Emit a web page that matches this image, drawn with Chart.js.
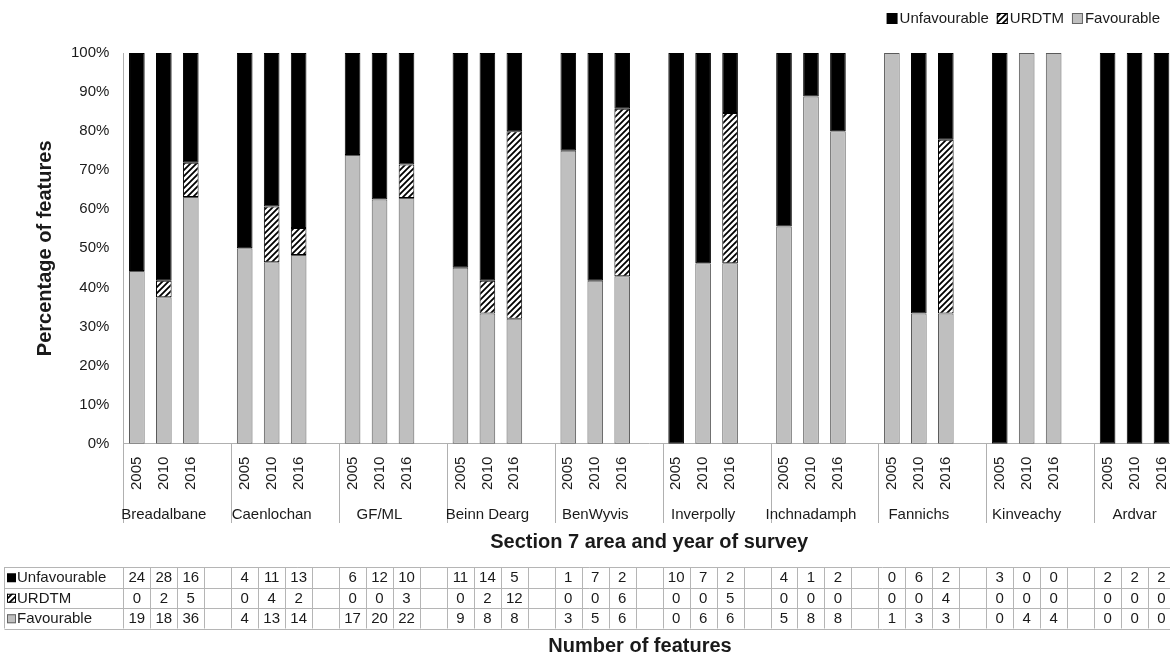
<!DOCTYPE html>
<html>
<head>
<meta charset="utf-8">
<script src="https://cdn.jsdelivr.net/npm/chart.js@4.4.1/dist/chart.umd.min.js"></script>
<style>
  html, body { margin: 0; padding: 0; overflow: hidden; background: #fff; }
</style>
</head>
<body>
<canvas id="myChart" width="1175" height="660" style="width:1175px;height:660px"></canvas>
<script>
var areas = ['Breadalbane', 'Caenlochan', 'GF/ML', 'Beinn Dearg', 'BenWyvis', 'Inverpolly', 'Inchnadamph', 'Fannichs', 'Kinveachy', 'Ardvar'];
var years = ['2005', '2010', '2016'];
// number of features per area and year (3 values per area)
var unfavourable = [24, 28, 16, 4, 11, 13, 6, 12, 10, 11, 14, 5, 1, 7, 2, 10, 7, 2, 4, 1, 2, 0, 6, 2, 3, 0, 0, 2, 2, 2];
var urdtm = [0, 2, 5, 0, 4, 2, 0, 0, 3, 0, 2, 12, 0, 0, 6, 0, 0, 5, 0, 0, 0, 0, 0, 4, 0, 0, 0, 0, 0, 0];
var favourable = [19, 18, 36, 4, 13, 14, 17, 20, 22, 9, 8, 8, 3, 5, 6, 0, 6, 6, 5, 8, 8, 1, 3, 3, 0, 4, 4, 0, 0, 0];
var tablaFilas = ['Unfavourable', 'URDTM', 'Favourable'];

var fuente = '"Liberation Sans", Arial, sans-serif';
var colorTexto = '#1a1a1a';
var colorGris = '#bfbfbf';

function crearRayado() {
  var c = document.createElement('canvas');
  c.width = 6; c.height = 6;
  var g = c.getContext('2d');
  g.fillStyle = '#fff';
  g.fillRect(0, 0, 6, 6);
  g.strokeStyle = '#000';
  g.lineWidth = 1.8;
  g.beginPath();
  g.moveTo(-1, 7); g.lineTo(7, -1);
  g.moveTo(-4, 4); g.lineTo(4, -4);
  g.moveTo(2, 10); g.lineTo(10, 2);
  g.stroke();
  return g.createPattern(c, 'repeat');
}
var rayado = crearRayado();

// 4 slots per area (3 years + blank), no blank after the last area
var etiquetas = [];
var pctUnfav = [], pctUrdtm = [], pctFav = [];
for (var a = 0; a < areas.length; a++) {
  for (var j = 0; j < years.length; j++) {
    var k = a * 3 + j;
    var total = unfavourable[k] + urdtm[k] + favourable[k];
    etiquetas.push(years[j]);
    pctUnfav.push(100 * unfavourable[k] / total);
    pctUrdtm.push(100 * urdtm[k] / total);
    pctFav.push(100 * favourable[k] / total);
  }
  if (a < areas.length - 1) {
    etiquetas.push('');
    pctUnfav.push(null); pctUrdtm.push(null); pctFav.push(null);
  }
}

function cajaLeyenda(ctx, tipo, x, y, s) {
  if (tipo === 0) { ctx.fillStyle = '#000'; ctx.fillRect(x, y, s, s); }
  else if (tipo === 1) {
    ctx.fillStyle = rayado; ctx.fillRect(x, y, s, s);
    ctx.strokeStyle = '#000'; ctx.lineWidth = 1; ctx.strokeRect(x + 0.5, y + 0.5, s - 1, s - 1);
  } else {
    ctx.fillStyle = colorGris; ctx.fillRect(x, y, s, s);
    ctx.strokeStyle = '#666'; ctx.lineWidth = 1; ctx.strokeRect(x + 0.5, y + 0.5, s - 1, s - 1);
  }
}

var pluginExtra = {
  id: 'extra',
  afterDraw: function (chart) {
    var ctx = chart.ctx;
    var x = chart.scales.x;
    var area = chart.chartArea;
    var w = x.getPixelForValue(1) - x.getPixelForValue(0);
    ctx.save();
    ctx.textBaseline = 'middle';

    // legend, right aligned
    ctx.font = '15px ' + fuente;
    var lx = 1160;
    for (var i = 2; i >= 0; i--) {
      var tw = ctx.measureText(tablaFilas[i]).width;
      lx -= tw;
      ctx.fillStyle = colorTexto;
      ctx.textAlign = 'left';
      ctx.fillText(tablaFilas[i], lx, 19);
      lx -= 13;
      cajaLeyenda(ctx, i, lx, 13, 11);
      lx -= 8;
    }

    // separators and area names
    ctx.strokeStyle = '#b0b0b0';
    ctx.lineWidth = 1;
    for (var a = 0; a < areas.length; a++) {
      var sx = Math.round(x.getPixelForValue(a * 4) - w / 2) + 0.5;
      ctx.beginPath();
      ctx.moveTo(sx, area.bottom);
      ctx.lineTo(sx, 523);
      ctx.stroke();
    }
    ctx.fillStyle = colorTexto;
    ctx.font = '15px ' + fuente;
    ctx.textAlign = 'center';
    for (var a = 0; a < areas.length; a++) {
      ctx.fillText(areas[a], x.getPixelForValue(a * 4 + 1), 515);
    }

    // table
    var top = 567, fila = 20.5;
    var izq = 4.5;
    var finTabla = x.getPixelForValue(etiquetas.length - 1) + w / 2;
    ctx.strokeStyle = '#b5b5b5';
    ctx.beginPath();
    for (var r = 0; r <= 3; r++) {
      var yy = Math.round(top + r * fila) + 0.5;
      ctx.moveTo(izq, yy); ctx.lineTo(finTabla, yy);
    }
    ctx.moveTo(izq, top); ctx.lineTo(izq, top + 3 * fila);
    for (var s = 0; s <= etiquetas.length; s++) {
      var cx = Math.round(x.getPixelForValue(s) - w / 2) + 0.5;
      ctx.moveTo(cx, top); ctx.lineTo(cx, top + 3 * fila);
    }
    ctx.stroke();

    var series = [unfavourable, urdtm, favourable];
    ctx.font = '15px ' + fuente;
    for (var r = 0; r < 3; r++) {
      var cy = top + r * fila + fila / 2 + 1;
      cajaLeyenda(ctx, r, 7, cy - 5, 9);
      ctx.fillStyle = colorTexto;
      ctx.textAlign = 'left';
      ctx.fillText(tablaFilas[r], 17, cy);
      ctx.textAlign = 'center';
      for (var a = 0; a < areas.length; a++) {
        for (var j = 0; j < 3; j++) {
          ctx.fillText(String(series[r][a * 3 + j]), x.getPixelForValue(a * 4 + j), cy);
        }
      }
    }

    ctx.font = 'bold 20px ' + fuente;
    ctx.textAlign = 'center';
    ctx.fillText('Number of features', 640, 646);
    ctx.restore();
  }
};

var ctx = document.getElementById('myChart').getContext('2d');
var myChart = new Chart(ctx, {
  type: 'bar',
  data: {
    labels: etiquetas,
    datasets: [
      { label: 'Favourable', data: pctFav, backgroundColor: colorGris, borderColor: '#5a5a5a', borderWidth: 1, borderSkipped: false },
      { label: 'URDTM', data: pctUrdtm, backgroundColor: rayado, borderColor: '#000', borderWidth: 1, borderSkipped: false },
      { label: 'Unfavourable', data: pctUnfav, backgroundColor: '#000', borderColor: '#000', borderWidth: 1, borderSkipped: false }
    ]
  },
  options: {
    responsive: false,
    animation: false,
    datasets: { bar: { barPercentage: 0.58, categoryPercentage: 1 } },
    layout: { padding: { left: 0, right: 0, top: 53, bottom: 104 } },
    plugins: {
      legend: { display: false },
      tooltip: { enabled: false }
    },
    scales: {
      x: {
        stacked: true,
        afterFit: function (s) { s.paddingLeft = 0; s.paddingRight = 0; },
        grid: { display: false, drawTicks: false },
        border: { display: true, color: '#b0b0b0' },
        ticks: {
          autoSkip: false, minRotation: 90, maxRotation: 90, padding: 13,
          color: colorTexto, font: { family: fuente, size: 15 }
        },
        title: {
          display: true, text: 'Section 7 area and year of survey',
          color: colorTexto, font: { family: fuente, size: 20, weight: 'bold' },
          padding: { top: 27, bottom: 2 }
        }
      },
      y: {
        stacked: true,
        min: 0, max: 100,
        grid: { display: false, drawTicks: false },
        border: { display: true, color: '#b0b0b0' },
        ticks: {
          stepSize: 10, padding: 14,
          color: colorTexto, font: { family: fuente, size: 15 },
          callback: function (v) { return v + '%'; }
        },
        title: {
          display: true, text: 'Percentage of features',
          color: colorTexto, font: { family: fuente, size: 20, weight: 'bold' },
          padding: { top: 33, bottom: 0 }
        }
      }
    }
  },
  plugins: [pluginExtra]
});
</script>
</body>
</html>
